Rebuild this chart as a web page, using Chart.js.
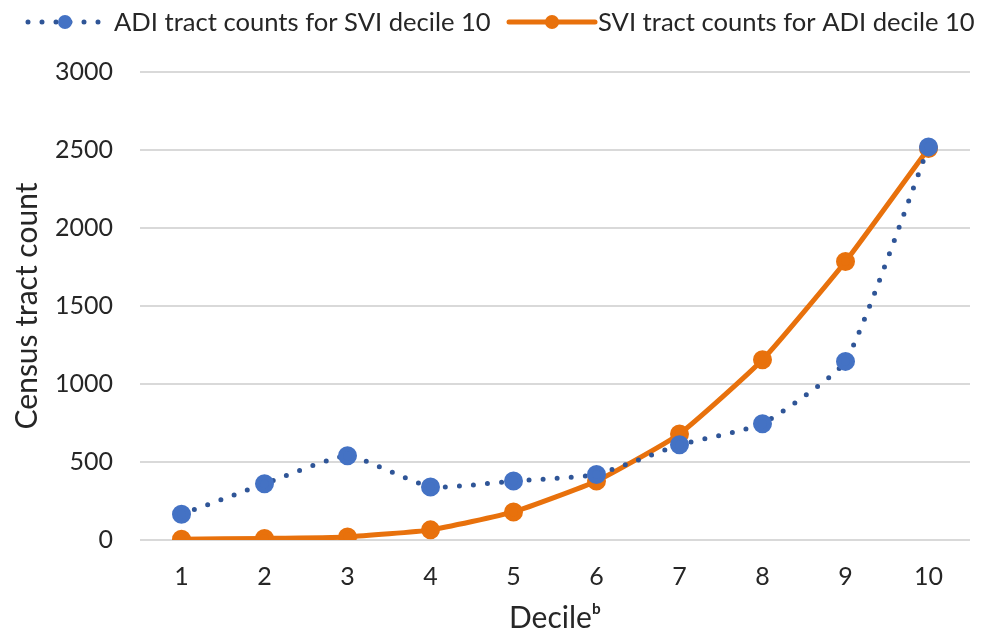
<!DOCTYPE html>
<html>
<head>
<meta charset="utf-8">
<script src="https://cdn.jsdelivr.net/npm/chart.js@4"></script>
<style>
  html, body { margin: 0; padding: 0; background: #fff; }
  #wrap { width: 988px; height: 636px; }
</style>
</head>
<body>
<div id="wrap"><canvas id="chart" width="988" height="636"></canvas></div>
<script>
const deciles = ['1', '2', '3', '4', '5', '6', '7', '8', '9', '10'];
const adiCounts = [165, 360, 540, 340, 378, 420, 610, 745, 1145, 2520];
const sviCounts = [5, 10, 20, 65, 180, 378, 680, 1155, 1785, 2510];
const adiLabel = 'ADI tract counts for SVI decile 10';
const sviLabel = 'SVI tract counts for ADI decile 10';

const fontFamily = 'Lato, "Liberation Sans", sans-serif';
const textColor = '#262626';

// excel style legend: line segment with marker in the middle
const excelLegend = {
    id: 'excelLegend',
    afterDraw(chart) {
        const ctx = chart.ctx;
        const y = 22;
        const items = [
            { ds: chart.data.datasets[0], x0: 28, x1: 102, tx: 114 },
            { ds: chart.data.datasets[1], x0: 509, x1: 595, tx: 598 }
        ];
        ctx.save();
        items.forEach(it => {
            ctx.strokeStyle = it.ds.borderColor;
            ctx.lineWidth = it.ds.borderWidth;
            ctx.lineCap = it.ds.borderCapStyle || 'butt';
            ctx.setLineDash(it.ds.borderDash || []);
            ctx.beginPath();
            ctx.moveTo(it.x0, y);
            ctx.lineTo(it.x1, y);
            ctx.stroke();
            ctx.setLineDash([]);
            ctx.fillStyle = it.ds.pointBackgroundColor;
            ctx.beginPath();
            ctx.arc((it.x0 + it.x1) / 2, y, it.ds.pointRadius, 0, Math.PI * 2);
            ctx.fill();
            ctx.fillStyle = textColor;
            ctx.font = '25.6px ' + fontFamily;
            ctx.textBaseline = 'middle';
            ctx.fillText(it.ds.label, it.tx, y + 1);
        });
        ctx.restore();
    }
};

new Chart(document.getElementById('chart'), {
    type: 'line',
    data: {
        labels: deciles,
        datasets: [{
            label: adiLabel,
            data: adiCounts,
            borderColor: '#2F5597',
            borderWidth: 5,
            borderDash: [0, 14],
            borderCapStyle: 'round',
            pointBackgroundColor: '#4472C4',
            pointBorderColor: '#4472C4',
            pointRadius: 7,
            tension: 0.15
        }, {
            label: sviLabel,
            data: sviCounts,
            borderColor: '#E8710C',
            borderWidth: 5,
            borderCapStyle: 'round',
            pointBackgroundColor: '#E8710C',
            pointBorderColor: '#E8710C',
            pointRadius: 7,
            tension: 0.15
        }]
    },
    options: {
        responsive: false,
        animation: false,
        layout: { padding: { top: 72, right: 18, left: 9, bottom: 0 } },
        plugins: {
            legend: { display: false },
            tooltip: { enabled: false }
        },
        scales: {
            x: {
                offset: true,
                afterFit: s => { s.height = 96; },
                grid: { display: false, drawTicks: false },
                border: { display: false },
                ticks: { color: textColor, font: { family: fontFamily, size: 25 }, padding: 22 },
                title: {
                    display: true,
                    text: 'Decileᵇ',
                    color: textColor,
                    font: { family: fontFamily, size: 30 },
                    padding: { top: 8, bottom: 0 }
                }
            },
            y: {
                min: 0,
                max: 3000,
                afterFit: s => { s.width = 131; },
                ticks: {
                    stepSize: 500,
                    color: textColor,
                    font: { family: fontFamily, size: 25 },
                    padding: 27,
                    callback: v => String(v)
                },
                grid: { color: '#D9D9D9', lineWidth: 2, drawTicks: false },
                border: { display: false },
                title: {
                    display: true,
                    text: 'Census tract count',
                    color: textColor,
                    font: { family: fontFamily, size: 30 },
                    padding: { top: 0, bottom: 12 }
                }
            }
        }
    },
    plugins: [excelLegend]
});
</script>
</body>
</html>
